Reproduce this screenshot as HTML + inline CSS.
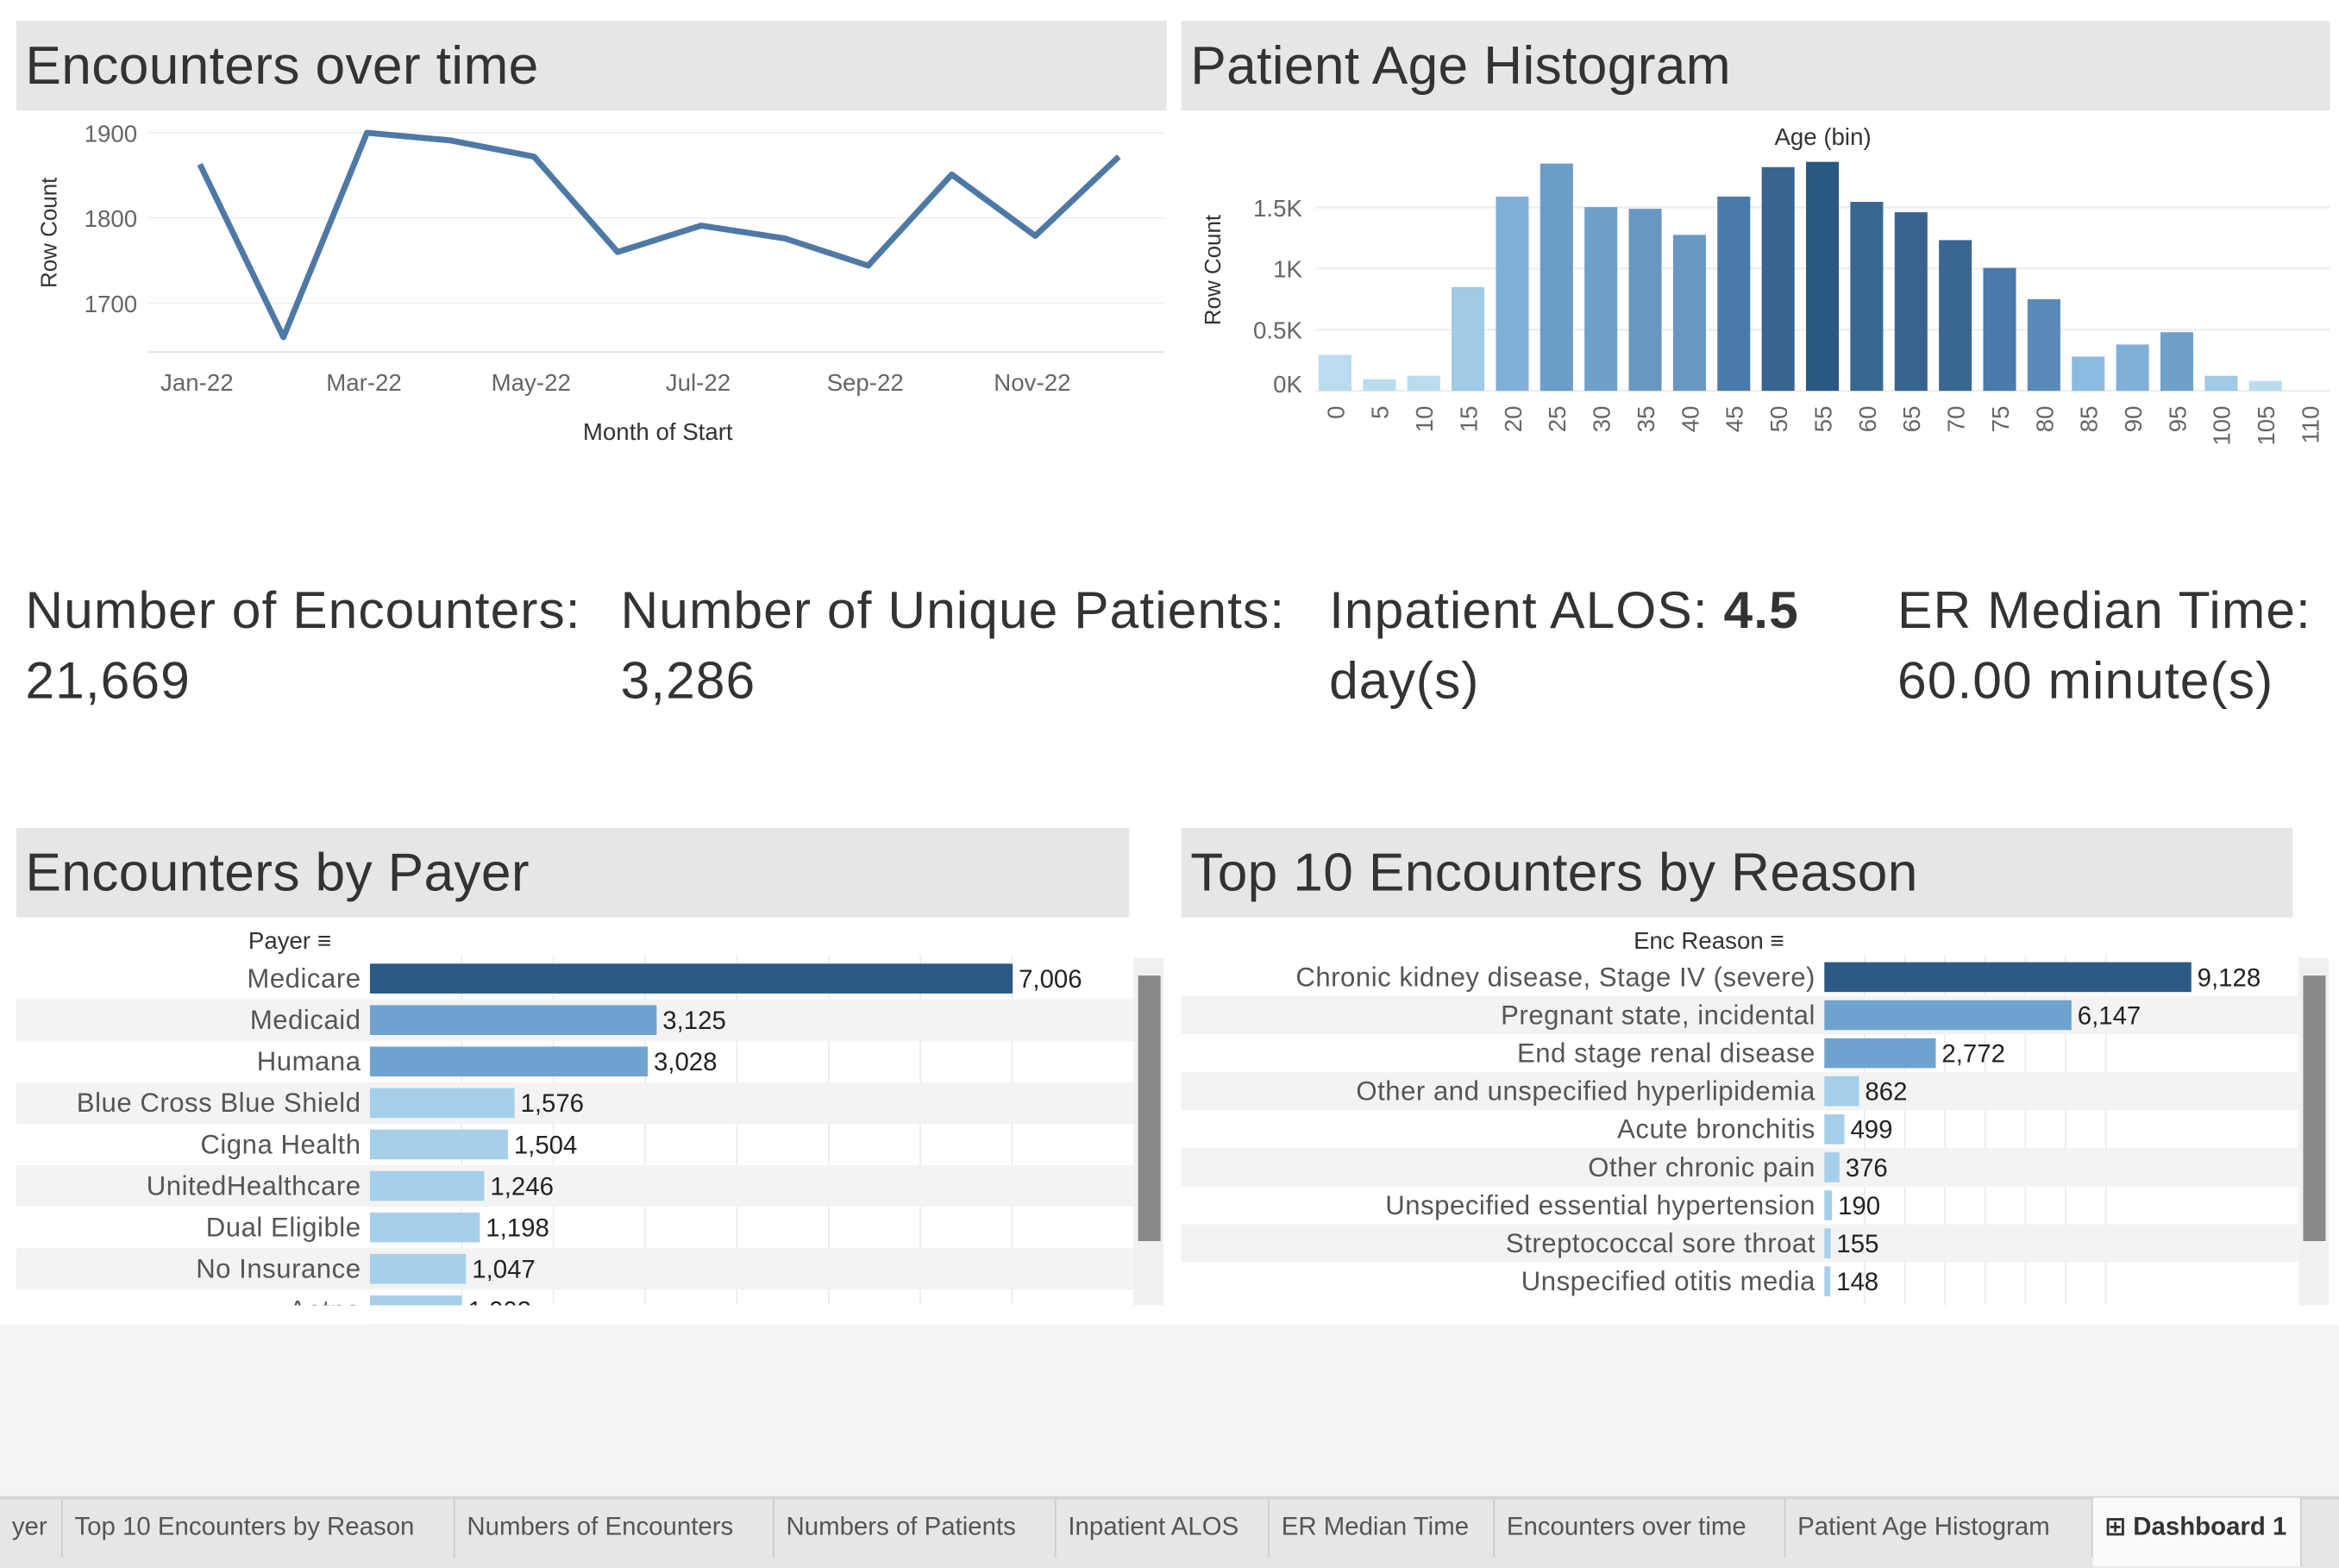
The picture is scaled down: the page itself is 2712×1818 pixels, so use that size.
<!DOCTYPE html>
<html><head><meta charset="utf-8"><style>
body{margin:0;width:2712px;height:1817px;overflow:hidden;background:#fff;font-family:"Liberation Sans","DejaVu Sans",sans-serif}
#w{position:absolute;left:0;top:0;width:1568px;height:1051px;transform:scale(1.72959);transform-origin:0 0;background:#fff}
.t{position:absolute;background:#e6e6e6;color:#333;font-size:36px;padding-left:6px;box-sizing:border-box;line-height:60px;letter-spacing:0.2px}
.k{position:absolute;font-size:35px;color:#333;line-height:47px;letter-spacing:0.6px}
.tab{position:absolute;top:1004px;height:40px;line-height:40px;font-size:17px;color:#555;border-right:1px solid #ccc;padding:0 8px;box-sizing:border-box}
svg text{font-family:"Liberation Sans","DejaVu Sans",sans-serif}
</style></head><body><div id="w">
<div class="t" style="left:11px;top:14px;width:771px;height:60px">Encounters over time</div>
<div class="t" style="left:792px;top:14px;width:770px;height:60px">Patient Age Histogram</div>
<div class="t" style="left:11px;top:555px;width:746px;height:60px">Encounters by Payer</div>
<div class="t" style="left:792px;top:555px;width:745px;height:60px">Top 10 Encounters by Reason</div>
<div class="k" style="left:17px;top:386px">Number of Encounters:<br>21,669</div>
<div class="k" style="left:416px;top:386px">Number of Unique Patients:<br>3,286</div>
<div class="k" style="left:891px;top:386px">Inpatient ALOS: <b>4.5</b><br>day(s)</div>
<div class="k" style="left:1272px;top:386px">ER Median Time:<br>60.00 minute(s)</div>
<svg id="s" width="1568" height="1051" style="position:absolute;left:0;top:0"></svg>
<div style="position:absolute;left:0;top:888px;width:1568px;height:115px;background:#f4f4f4"></div>
<div style="position:absolute;left:0;top:1003px;width:1568px;height:48px;background:#e6e6e6;border-top:2px solid #d4d4d4;box-sizing:border-box"></div>
<div class="tab" style="left:0;width:42px">yer</div>
<div class="tab" style="left:42px;width:263px">Top 10 Encounters by Reason</div>
<div class="tab" style="left:305px;width:214px">Numbers of Encounters</div>
<div class="tab" style="left:519px;width:189px">Numbers of Patients</div>
<div class="tab" style="left:708px;width:143px">Inpatient ALOS</div>
<div class="tab" style="left:851px;width:151px">ER Median Time</div>
<div class="tab" style="left:1002px;width:195px">Encounters over time</div>
<div class="tab" style="left:1197px;width:206px">Patient Age Histogram</div>
<div class="tab" style="left:1403px;width:140px;background:#fafafa;color:#333;font-weight:bold;height:46px">⊞ Dashboard 1</div>
</div>
<script>
const months=["Jan-22","Feb-22","Mar-22","Apr-22","May-22","Jun-22","Jul-22","Aug-22","Sep-22","Oct-22","Nov-22","Dec-22"];
const monthCounts=[1863,1660,1900,1891,1872,1760,1791,1776,1744,1851,1779,1872];
const lineTicks=[1700,1800,1900];
const ageBins=[0,5,10,15,20,25,30,35,40,45,50,55,60,65,70,75,80,85,90,95,100,105,110];
const ageCounts=[294,95,123,848,1588,1858,1502,1488,1275,1588,1829,1872,1545,1460,1232,1005,749,280,379,479,123,81,0];
const ageTicks=[0,500,1000,1500];
const ageTickLabels=["0K","0.5K","1K","1.5K"];
const payers=["Medicare","Medicaid","Humana","Blue Cross Blue Shield","Cigna Health","UnitedHealthcare","Dual Eligible","No Insurance","Aetna"];
const payerCounts=[7006,3125,3028,1576,1504,1246,1198,1047,1003];
const reasons=["Chronic kidney disease, Stage IV (severe)","Pregnant state, incidental","End stage renal disease","Other and unspecified hyperlipidemia","Acute bronchitis","Other chronic pain","Unspecified essential hypertension","Streptococcal sore throat","Unspecified otitis media"];
const reasonCounts=[9128,6147,2772,862,499,376,190,155,148];
const histPalette=["#b9dcf0","#b9dcf0","#b9dcf0","#a0cae5","#80b0d8","#6a9ec8","#6ea0c8","#6898c2","#6898c2","#4a7aaa","#38648f","#2b5882","#3a6792","#38648f","#3a6792","#4a7aaa","#5a8aba","#8cbbe0","#80b0d8","#6ea0c8","#a0cae5","#b9dcf0","#b9dcf0"];

const S=document.getElementById('s');const NS='http://www.w3.org/2000/svg';
function el(t,a,txt){const e=document.createElementNS(NS,t);for(const k in a)e.setAttribute(k,a[k]);if(txt!==undefined)e.textContent=txt;S.appendChild(e);return e;}
function fmt(v){return v.toLocaleString('en-US');}

// line chart
const lx=i=>134+i*56, ly=v=>89+(1900-v)*0.571;
lineTicks.forEach(t=>{const g=el('line',{x1:100,x2:780,y1:ly(t),y2:ly(t),stroke:'#efefef'});
 const l=el('text',{x:92,y:ly(t)+6,'text-anchor':'end','font-size':16,fill:'#666'},t);});
el('line',{x1:100,x2:780,y1:236,y2:236,stroke:'#ddd'});
[0,2,4,6,8,10].forEach(i=>{const l=el('text',{x:lx(i)-2,y:262,'text-anchor':'middle','font-size':16,fill:'#666'},months[i]);});
const yt=el('text',{transform:'translate(38,156) rotate(-90)','text-anchor':'middle','font-size':15,fill:'#333'},'Row Count');
const xt=el('text',{x:441,y:295,'text-anchor':'middle','font-size':16,fill:'#333'},'Month of Start');
const pl=el('polyline',{points:monthCounts.map((v,i)=>lx(i)+','+ly(v)).join(' '),fill:'none',stroke:'#4e79a7','stroke-width':4,'stroke-linejoin':'round'});


// histogram
const hx=i=>895+i*29.7, hy=v=>262-v*0.082;
ageTicks.forEach((t,i)=>{const g=el('line',{x1:882,x2:1562,y1:hy(t),y2:hy(t),stroke:'#efefef','stroke-width':1.5});
 const l=el('text',{x:873,y:hy(t)+6-(i==0?5:0),'text-anchor':'end','font-size':16,fill:'#666'},ageTickLabels[i]);});
ageCounts.forEach((v,i)=>{if(v>0){const r=el('rect',{x:hx(i)-11,y:hy(v),width:22,height:hy(0)-hy(v),fill:histPalette[i]});}
 const l=el('text',{transform:`translate(${hx(i)+6},272) rotate(-90)`,'text-anchor':'end','font-size':16,fill:'#666'},ageBins[i]);});
const ht=el('text',{transform:'translate(818,181) rotate(-90)','text-anchor':'middle','font-size':15,fill:'#333'},'Row Count');
const hbt=el('text',{x:1222,y:97,'text-anchor':'middle','font-size':16,fill:'#333'},'Age (bin)');

// horizontal bar charts
function hbar(cats,vals,x0,scale,y0,step,labelX,right,prefix,header,hx,sbx){
 for(let g=1;g<8;g++){const gx=x0+g*1000*scale;if(gx<right){const gl=el('line',{x1:gx,x2:gx,y1:640,y2:875,stroke:'#ececec'});}}
 const m=Math.max(...vals);
 cats.forEach((c,i)=>{const y=y0+i*step;
  if(i%2==1){const b=el('rect',{x:labelX,y:y-step/2,width:right-labelX,height:step,fill:'#f3f3f3'});}
  const t=el('text',{x:x0-6,y:y+6,'text-anchor':'end','font-size':18,fill:'#555','letter-spacing':0.3},c);
  const f=vals[i]/m>0.8?'#2c5985':vals[i]/m>0.3?'#6fa3cf':'#a6cfe9';
  const r=el('rect',{x:x0,y:y-10,width:vals[i]*scale,height:20,fill:f});
  const v=el('text',{x:x0+vals[i]*scale+4,y:y+6,'font-size':17,fill:'#222'},fmt(vals[i]));});
 const h=el('text',{x:hx,y:636,'text-anchor':'end','font-size':16,fill:'#333'},header+' ≡');
 const sb=el('rect',{x:sbx,y:642,width:20,height:233,fill:'#f0f0f0'});
 const th=el('rect',{x:sbx+3,y:654,width:15,height:178,fill:'#888'});
}
hbar(payers,payerCounts,248,0.0615,656,27.8,11,760,'payer','Payer',222,760);
hbar(reasons,reasonCounts,1223,0.02695,655,25.5,792,1541,'reason','Enc Reason',1196,1541);
el('rect',{x:0,y:875,width:1568,height:13,fill:'#fff'});
</script></body></html>
